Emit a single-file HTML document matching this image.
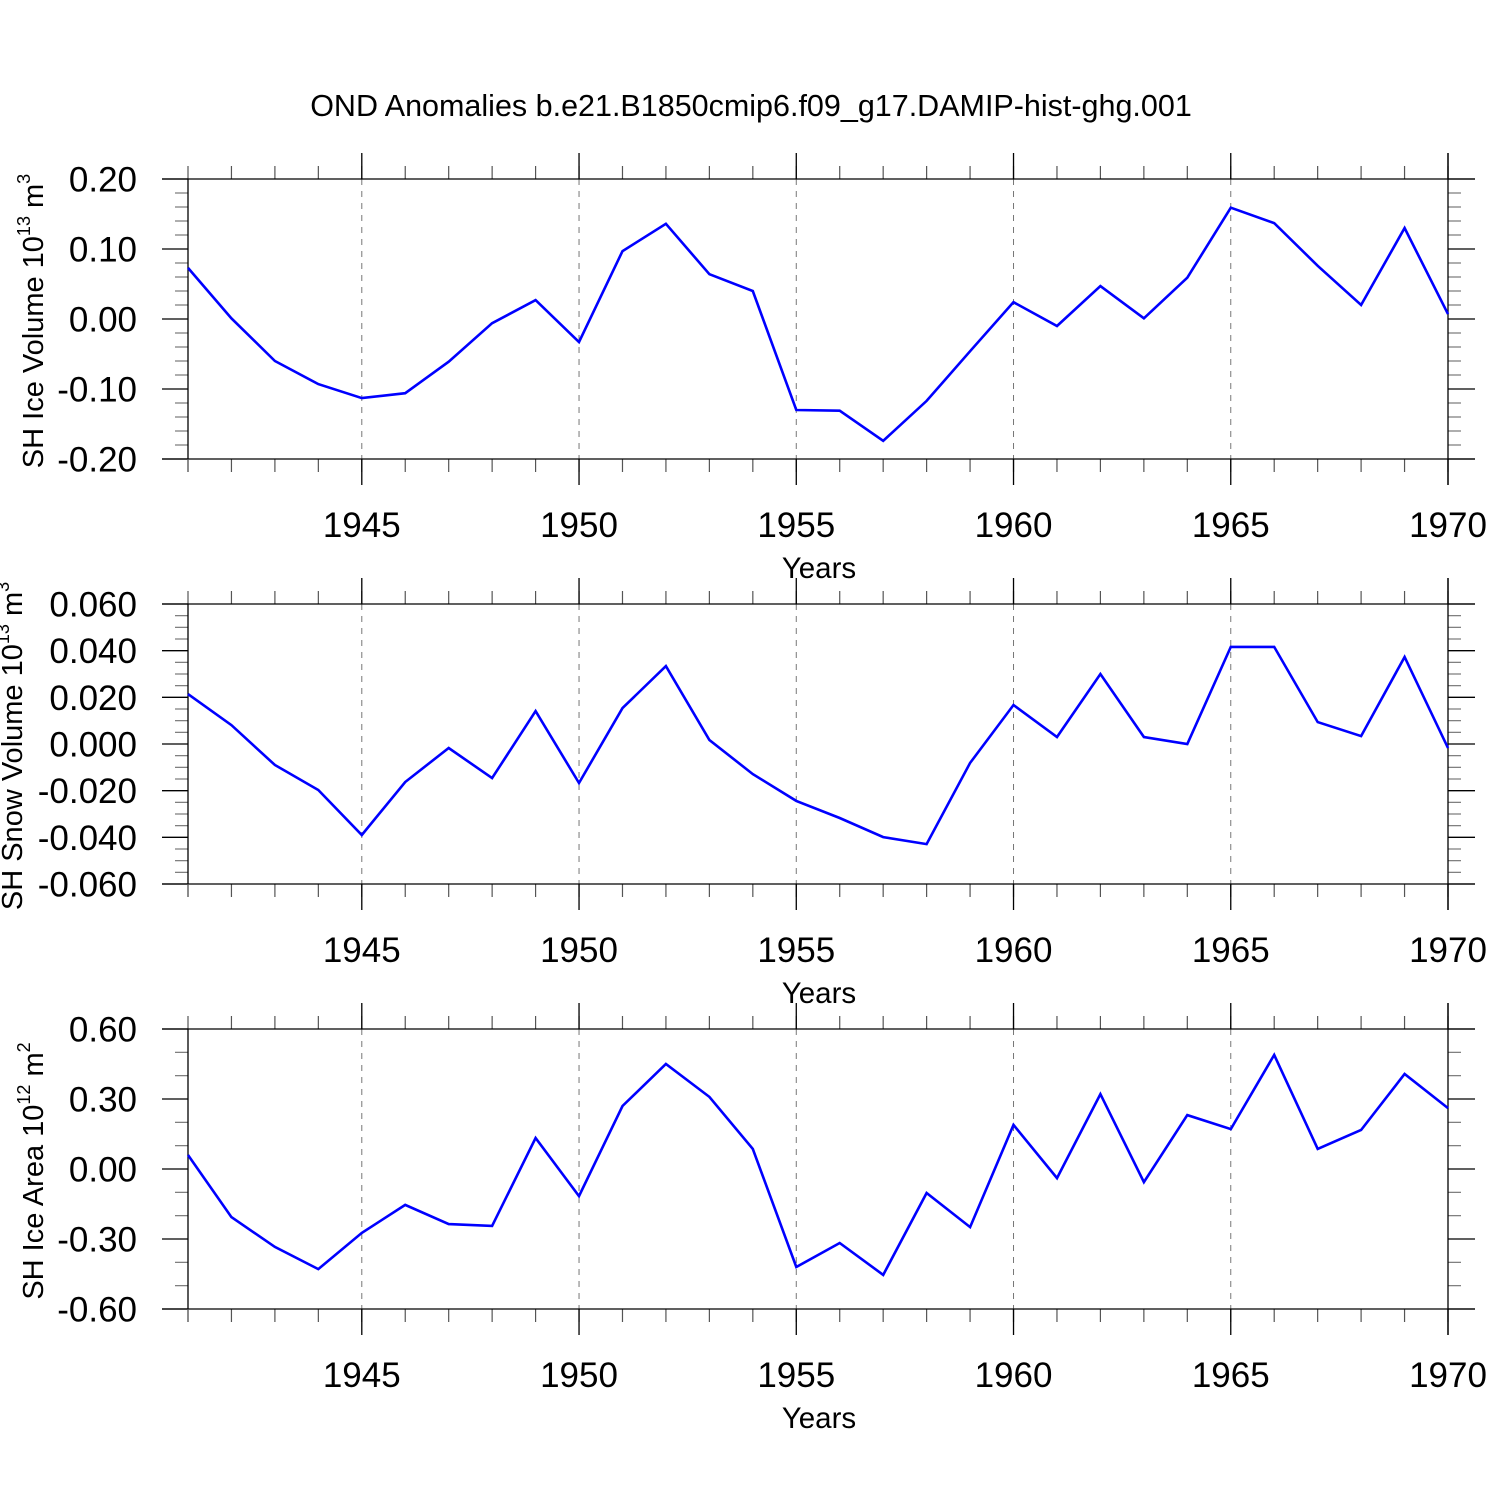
<!DOCTYPE html>
<html><head><meta charset="utf-8"><style>
html,body{margin:0;padding:0;background:#fff}
svg{display:block;font-family:"Liberation Sans",sans-serif}
</style></head><body>
<svg id="chart" width="1500" height="1500" viewBox="0 0 1500 1500">
<text x="751" y="116" font-size="30.5" text-anchor="middle">OND Anomalies b.e21.B1850cmip6.f09_g17.DAMIP-hist-ghg.001</text>
</svg>
<script>
const years = [1941,1942,1943,1944,1945,1946,1947,1948,1949,1950,1951,1952,1953,1954,1955,1956,1957,1958,1959,1960,1961,1962,1963,1964,1965,1966,1967,1968,1969,1970];
const iceVolume = [0.073,0.001,-0.06,-0.093,-0.113,-0.106,-0.061,-0.006,0.027,-0.033,0.097,0.136,0.064,0.04,-0.13,-0.131,-0.174,-0.117,-0.046,0.024,-0.01,0.047,0.001,0.059,0.159,0.137,0.076,0.02,0.13,0.007];
const snowVolume = [0.0214,0.0081,-0.009,-0.0197,-0.039,-0.0163,-0.0017,-0.0146,0.0141,-0.0167,0.0154,0.0334,0.0017,-0.0129,-0.0244,-0.0317,-0.0399,-0.0429,-0.0081,0.0167,0.003,0.03,0.003,0.0,0.0416,0.0416,0.0094,0.0034,0.0373,-0.0017];
const iceArea = [0.06,-0.206,-0.334,-0.429,-0.274,-0.154,-0.236,-0.244,0.133,-0.116,0.27,0.45,0.309,0.086,-0.42,-0.317,-0.454,-0.103,-0.249,0.189,-0.039,0.321,-0.056,0.231,0.171,0.489,0.086,0.167,0.407,0.261];
const xTickYears = [1945,1950,1955,1960,1965,1970];
const ticks1 = [0.2,0.1,0,-0.1,-0.2];
const ticks1Labels = ["0.20","0.10","0.00","-0.10","-0.20"];
const ticks2 = [0.06,0.04,0.02,0,-0.02,-0.04,-0.06];
const ticks2Labels = ["0.060","0.040","0.020","0.000","-0.020","-0.040","-0.060"];
const ticks3 = [0.6,0.3,0,-0.3,-0.6];
const ticks3Labels = ["0.60","0.30","0.00","-0.30","-0.60"];

const svg = document.getElementById('chart');
const NS = 'http://www.w3.org/2000/svg';
const X0 = 188, X1 = 1448, H = 280;
function xs(yr){ return X0 + (yr-1941)/(1970-1941)*(X1-X0); }
function mk(tag, attrs, parent){
  const e = document.createElementNS(NS, tag);
  for (const k in attrs) e.setAttribute(k, attrs[k]);
  (parent||svg).appendChild(e); return e;
}
function panel(top, ymin, ymax, ticks, labels, nMinor, data, titleMain, sup, unit, name, titleX){
  const g = mk('g', {});
  
  
  const ys = v => top + (ymax - v)/(ymax - ymin)*H;
  const bot = top + H;
  const L = 'stroke:#000;stroke-width:1.3';
  xTickYears.forEach(yr => {
    if (yr < 1970) {
      const l = mk('line', {x1:xs(yr), x2:xs(yr), y1:top, y2:bot, stroke:'#777', 'stroke-width':1, 'stroke-dasharray':'6,6'}, g);
      
      
    }
  });
  years.forEach(yr => {
    const x = xs(yr);
    mk('line', {x1:x, x2:x, y1:top-13, y2:top, style:'stroke:#555;stroke-width:1.2'}, g);
    mk('line', {x1:x, x2:x, y1:bot, y2:bot+13, style:'stroke:#555;stroke-width:1.2'}, g);
  });
  xTickYears.forEach(yr => {
    const x = xs(yr);
    mk('line', {x1:x, x2:x, y1:top-26, y2:top, style:L}, g);
    mk('line', {x1:x, x2:x, y1:bot, y2:bot+26, style:L}, g);
    const t = mk('text', {x:x, y:bot+78, 'font-size':35, 'text-anchor':'middle'}, g);
    t.textContent = yr;
    
    
  });
  for (let i = 0; i < ticks.length-1; i++) {
    for (let j = 1; j <= nMinor; j++) {
      const v = ticks[i] + (ticks[i+1]-ticks[i])*j/(nMinor+1);
      const y = ys(v);
      mk('line', {x1:X0-13, x2:X0, y1:y, y2:y, style:'stroke:#777;stroke-width:1.2'}, g);
      mk('line', {x1:X1, x2:X1+13, y1:y, y2:y, style:'stroke:#777;stroke-width:1.2'}, g);
    }
  }
  ticks.forEach((v, i) => {
    const y = ys(v);
    mk('line', {x1:X0-26, x2:X0, y1:y, y2:y, style:L}, g);
    mk('line', {x1:X1, x2:X1+27, y1:y, y2:y, style:L}, g);
    const t = mk('text', {x:137, y:y+12.5, 'font-size':35, 'text-anchor':'end'}, g);
    t.textContent = labels[i];
    
    
  });
  mk('line', {x1:X0-26, x2:X1+27, y1:top, y2:top, style:L}, g);
  mk('line', {x1:X0-26, x2:X1+27, y1:bot, y2:bot, style:L}, g);
  mk('line', {x1:X0, x2:X0, y1:top, y2:bot, style:L}, g);
  mk('line', {x1:X1, x2:X1, y1:top-26, y2:bot+26, style:L}, g);
  mk('line', {x1:X0, x2:X0, y1:bot, y2:bot+13, style:'stroke:#555;stroke-width:1.2'}, g);
  const pts = years.map((yr, i) => xs(yr).toFixed(1) + ',' + ys(data[i]).toFixed(1)).join(' ');
  const pl = mk('polyline', {points:pts, fill:'none', stroke:'#0000ff', 'stroke-width':2.6, 'stroke-linejoin':'miter'}, g);
  
  
  const xt = mk('text', {x:819, y:bot+119, 'font-size':29.5, 'text-anchor':'middle'}, g);
  xt.textContent = 'Years';
  
  
  const cy = top + H/2 + 2;
  const yt = mk('text', {x:0, y:0, 'font-size':29, 'text-anchor':'middle', transform:'translate(' + titleX + ',' + cy + ') rotate(-90)'}, g);
  
  
  const s1 = mk('tspan', {}, yt); s1.textContent = titleMain;
  const s2 = mk('tspan', {dy:-13, 'font-size':18}, yt); s2.textContent = sup;
  const s3 = mk('tspan', {dy:13}, yt); s3.textContent = ' m';
  const s4 = mk('tspan', {dy:-13, 'font-size':18}, yt); s4.textContent = unit;
}
panel(179, -0.2, 0.2, ticks1, ticks1Labels, 4, iceVolume, 'SH Ice Volume 10', '13', '3', 'ice-volume', 43);
panel(604, -0.06, 0.06, ticks2, ticks2Labels, 3, snowVolume, 'SH Snow Volume 10', '13', '3', 'snow-volume', 22);
panel(1029, -0.6, 0.6, ticks3, ticks3Labels, 2, iceArea, 'SH Ice Area 10', '12', '2', 'ice-area', 43);
</script>
</body></html>
